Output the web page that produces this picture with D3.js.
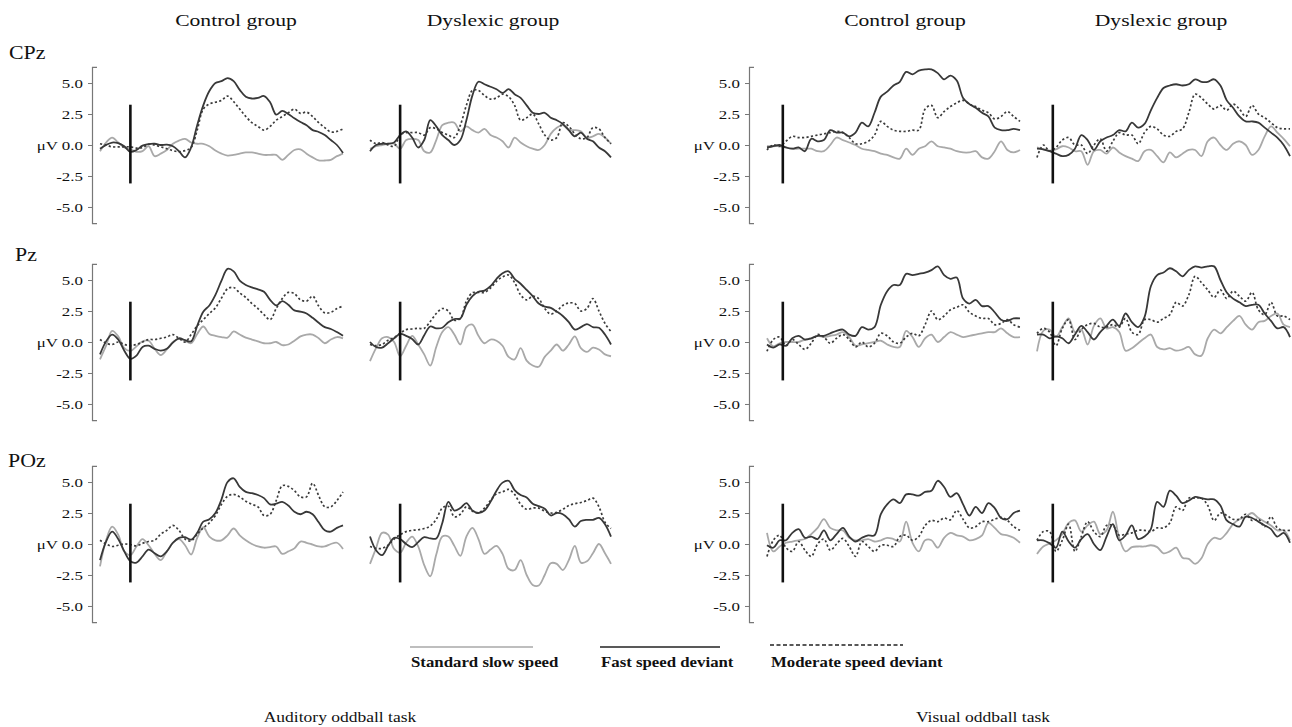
<!DOCTYPE html>
<html>
<head>
<meta charset="utf-8">
<script src="https://cdn.jsdelivr.net/npm/d3@7"></script>
<style>
  body { margin: 0; background: #fff; }
  text { font-family: "Liberation Serif", "Times New Roman", serif; fill: #111; }
</style>
</head>
<body>
<svg id="chart" width="1292" height="727"></svg>
<script>
// sample times (ms), one value every 20 ms
var audTimes = d3.range(-100, 701, 20);
var visTimes = d3.range(-50, 751, 20);

var yTicks = [5, 2.5, 0, -2.5, -5];
var onsetBar = [-3.1, 3.25];

var groupNames = ["Control group", "Dyslexic group", "Control group", "Dyslexic group"];
var siteNames = ["CPz", "Pz", "POz"];
var taskNames = ["Auditory oddball task", "Visual oddball task"];
var legendNames = ["Standard slow speed", "Fast speed deviant", "Moderate speed deviant"];

// CPz
var cpzAudCtlStd = [-0.5,0.2,0.6,0.2,-0.2,-0.35,-0.55,-0.5,-0.1,-0.9,-0.7,-0.4,0.1,0.35,0.5,0.2,0.1,0.1,-0.1,-0.45,-0.7,-0.85,-0.8,-0.7,-0.6,-0.6,-0.7,-0.8,-0.8,-0.8,-1.2,-0.8,-0.4,-0.35,-0.7,-1.0,-1.25,-1.25,-1.2,-0.9,-0.7];
var cpzAudCtlFast = [-0.3,0.0,0.2,0.15,-0.1,-0.55,-0.4,-0.05,0.07,0.1,0.0,0.03,-0.1,-0.5,-1.0,-0.2,1.6,3.2,4.35,5.0,5.15,5.4,5.15,4.45,3.9,3.75,3.8,3.95,3.45,2.45,2.75,2.5,2.15,1.85,1.6,1.2,1.05,0.8,0.4,0.0,-0.65];
var cpzAudCtlMod = [0.1,0.0,-0.15,-0.15,-0.15,-0.15,-0.25,-0.2,0.05,0.0,-0.15,-0.3,-0.45,-0.55,-0.45,-0.2,1.2,2.9,3.3,3.45,3.6,3.95,3.5,2.9,2.3,1.8,1.5,1.2,1.5,2.0,2.3,2.6,2.9,2.55,2.65,2.3,1.8,1.4,1.05,1.1,1.3];
var cpzAudDysStd = [-0.3,-0.1,0.0,0.1,0.1,-0.3,0.4,0.5,0.4,-0.5,-0.6,0.4,1.6,1.8,1.8,1.1,1.5,1.2,1.0,1.3,0.8,0.6,0.3,-0.2,0.6,0.2,-0.1,-0.3,-0.4,0.0,0.9,1.4,1.6,1.2,1.2,1.1,0.6,0.7,0.9,0.6,0.1];
var cpzAudDysFast = [-0.5,0.0,0.1,0.1,0.2,0.8,1.1,0.6,-0.2,0.4,2.0,1.5,0.8,0.4,0.0,0.4,2.0,4.0,5.1,4.9,4.7,4.5,4.2,4.5,4.1,3.8,3.2,2.6,2.5,2.6,2.2,2.0,1.7,1.2,0.7,1.0,0.5,0.3,-0.2,-0.5,-1.0];
var cpzAudDysMod = [0.4,0.1,0.2,0.0,-0.1,0.8,1.0,1.0,1.0,0.8,1.4,1.3,1.0,0.8,0.6,1.6,3.2,4.4,4.4,4.0,3.7,3.8,4.1,3.9,3.2,2.0,2.2,2.5,1.7,0.8,0.4,0.6,1.8,1.5,0.9,0.5,0.6,1.4,1.3,0.6,0.1];
var cpzVisCtlStd = [-0.1,-0.1,-0.1,-0.2,-0.3,-0.3,-0.3,-0.3,-0.5,-0.5,0.0,0.6,0.4,0.2,0.0,-0.3,-0.4,-0.5,-0.7,-0.8,-1.0,-1.1,-0.3,-0.8,-0.3,-0.1,0.3,-0.1,-0.2,-0.3,-0.5,-0.6,-0.6,-0.5,-1.0,-1.1,-0.5,0.3,-0.4,-0.6,-0.4];
var cpzVisCtlFast = [-0.2,-0.1,0.0,-0.2,-0.3,-0.2,-0.5,0.5,0.3,0.4,1.2,1.0,1.0,0.7,1.0,1.8,1.5,2.6,3.9,4.3,4.8,5.1,5.9,5.7,6.0,6.1,6.1,5.8,5.3,5.6,5.2,3.8,3.3,3.0,2.6,2.3,1.4,1.2,1.2,1.3,1.2];
var cpzVisCtlMod = [-0.4,0.0,-0.1,0.3,0.7,0.6,0.6,0.7,0.8,0.9,1.0,1.1,1.0,0.6,0.1,0.1,0.3,0.8,1.9,1.5,1.2,1.1,1.1,1.2,1.2,2.9,3.2,2.2,2.7,3.1,3.4,3.6,3.3,3.1,2.8,2.6,2.1,2.3,2.7,2.3,1.9];
var cpzVisDysStd = [-0.2,-0.35,-0.45,-0.35,-0.1,-0.2,-0.5,-0.5,-1.6,-0.5,-0.4,-0.7,-0.2,-0.6,-0.9,-1.1,-1.3,-0.5,-0.4,-0.9,-1.4,-0.6,-1.0,-0.7,-0.4,-0.4,-0.9,0.3,0.6,0.0,-0.4,0.1,0.3,0.0,-0.8,-0.4,0.7,1.5,1.0,0.5,-0.1];
var cpzVisDysFast = [-0.3,-0.35,-0.5,-0.7,-0.9,-0.8,-0.3,0.8,0.4,-0.4,0.3,0.6,0.8,1.2,1.1,1.8,1.4,1.7,2.8,3.8,4.6,4.8,4.9,4.8,4.9,5.3,5.1,5.1,5.3,4.8,3.6,3.0,2.3,1.9,1.9,1.8,1.4,1.0,0.6,0.0,-0.9];
var cpzVisDysMod = [-1.0,0.0,-0.5,-0.2,0.4,0.6,0.0,0.0,-0.7,0.0,0.5,-0.5,0.3,1.0,0.8,0.8,0.1,1.0,1.5,1.3,0.8,0.7,1.1,1.3,2.6,4.1,3.8,3.3,2.9,3.2,2.8,3.3,2.9,2.3,3.2,2.5,2.2,1.8,1.4,1.3,1.3];

// Pz
var pzAudCtlStd = [-1.4,-0.3,0.9,0.45,-0.5,-0.72,-0.35,0.05,0.1,-0.55,-1.05,-0.6,0.0,0.25,0.1,-0.1,0.65,1.25,0.65,0.5,0.4,0.35,0.85,0.6,0.35,0.2,0.05,-0.1,-0.1,0.0,-0.25,-0.2,0.1,0.45,0.6,0.6,0.3,-0.1,0.2,0.4,0.3];
var pzAudCtlFast = [-1.0,0.05,0.6,0.2,-0.7,-1.35,-1.1,-0.4,-0.3,-0.55,-0.7,-0.55,-0.05,0.3,0.15,0.05,1.3,2.45,2.95,3.8,4.95,5.9,5.7,4.95,4.6,4.4,4.25,4.05,3.4,2.95,3.3,3.0,2.55,2.45,2.3,1.95,1.55,1.2,1.05,0.8,0.5];
var pzAudCtlMod = [0.2,-0.1,-0.2,0.0,-0.2,-0.3,-0.2,0.0,0.2,0.2,0.3,0.4,0.6,0.3,0.0,0.6,1.3,1.8,2.3,2.75,3.55,4.3,4.4,3.95,3.6,3.1,2.7,2.2,1.8,2.7,3.5,4.0,3.9,3.4,3.3,3.7,2.9,2.35,2.4,2.7,2.9];
var pzAudDysStd = [-1.55,-0.5,0.3,0.4,0.0,-1.15,-0.3,0.5,-0.2,-1.0,-1.9,-0.4,0.8,1.2,0.6,-0.2,1.2,1.4,0.5,-0.1,0.2,0.1,-0.3,-1.2,-1.4,-0.5,-1.5,-1.9,-2.0,-1.2,-0.7,-0.2,-0.7,-0.2,0.45,-0.5,-0.8,-0.45,-0.6,-1.0,-1.15];
var pzAudDysFast = [0.0,-0.4,-0.45,-0.1,0.3,0.65,0.5,0.25,-0.2,0.55,1.25,1.1,1.15,1.6,1.85,1.9,3.0,3.7,4.05,4.15,4.5,5.1,5.55,5.7,5.1,4.7,4.2,3.7,3.1,2.85,2.75,2.45,2.1,1.6,1.0,1.2,1.45,1.2,1.15,0.6,-0.2];
var pzAudDysMod = [-0.2,-0.3,-0.2,0.15,0.35,0.7,1.0,1.05,1.1,1.1,1.65,2.3,2.7,2.5,1.75,1.9,3.3,3.97,4.0,4.0,4.35,4.9,5.25,5.4,4.8,3.8,3.4,3.7,3.5,2.7,2.25,2.5,2.95,3.15,3.1,2.5,2.7,3.5,2.5,1.5,0.85];
var pzVisCtlStd = [0.3,-0.35,-0.1,0.0,0.0,0.0,0.2,0.3,0.5,0.4,0.5,0.6,0.8,0.4,-0.3,-0.2,-0.1,0.0,0.1,-0.2,-0.4,-0.4,0.9,0.4,-0.4,0.3,0.6,0.0,0.4,0.8,0.6,0.4,0.5,0.6,0.7,0.8,0.8,1.1,0.7,0.4,0.4];
var pzVisCtlFast = [-0.2,-0.45,-0.2,-0.3,0.3,0.5,0.2,0.3,0.5,0.5,0.7,0.9,1.0,0.6,0.5,1.2,1.0,1.2,3.0,4.1,4.6,4.6,5.5,5.4,5.5,5.6,5.8,6.1,5.4,5.1,5.2,3.5,3.1,3.4,2.9,2.9,2.4,1.8,1.7,1.9,1.9];
var pzVisCtlMod = [-0.75,0.2,0.4,-0.3,0.2,-0.2,-0.6,-0.1,0.6,0.4,-0.1,0.3,0.6,0.2,-0.4,0.0,-0.4,-0.1,0.7,0.5,0.0,-0.1,0.4,0.7,0.5,1.4,2.5,1.8,2.1,2.6,2.8,3.0,2.4,2.1,1.9,1.9,1.4,1.5,1.8,1.4,1.2];
var pzVisDysStd = [-0.75,0.9,1.0,0.4,1.2,1.9,0.8,1.0,-0.2,1.3,1.9,1.1,1.2,0.8,-0.7,-0.5,-0.1,0.3,0.6,-0.4,-0.6,-0.5,-0.7,-0.6,-0.4,-1.0,-1.1,0.3,1.0,0.7,1.2,1.7,2.1,1.4,1.0,1.6,1.7,2.1,2.3,1.4,1.2];
var pzVisDysFast = [0.6,0.6,0.3,0.45,0.3,-0.1,0.6,1.3,0.8,0.2,0.8,1.3,1.8,1.3,2.3,1.6,1.2,2.0,4.5,5.4,5.6,5.95,5.7,5.3,5.8,6.1,6.0,6.1,6.1,5.0,4.0,3.5,3.2,2.9,3.0,3.0,2.3,1.7,1.1,1.2,0.4];
var pzVisDysMod = [0.7,1.1,0.8,-0.3,1.1,1.8,0.2,1.0,1.4,1.5,1.2,1.2,1.4,1.2,1.9,0.8,0.6,1.8,1.8,1.6,1.9,2.2,3.2,2.9,3.8,5.3,4.8,4.2,3.6,4.2,3.5,4.1,3.7,3.3,4.0,2.6,2.2,3.2,2.1,2.1,1.8];

// POz
var pozAudCtlStd = [-1.8,0.3,1.4,0.75,-0.6,-0.9,-0.2,0.4,-0.1,-0.8,-1.3,-0.6,0.1,0.4,-0.1,-0.85,0.5,1.35,0.6,0.3,0.3,0.7,1.25,0.7,0.3,0.0,-0.2,-0.3,-0.25,-0.2,-0.8,-0.6,-0.35,0.2,0.1,-0.05,-0.2,-0.2,0.0,0.1,-0.4];
var pozAudCtlFast = [-1.3,0.2,1.0,0.4,-0.6,-1.4,-1.5,-1.0,-0.45,-0.75,-1.0,-0.6,0.1,0.5,0.55,0.35,0.9,1.8,2.0,2.5,3.6,5.0,5.3,4.6,4.2,4.1,3.95,3.7,3.2,3.25,3.4,3.1,2.6,2.4,2.6,2.4,1.75,1.1,1.0,1.3,1.5];
var pozAudCtlMod = [0.3,0.0,-0.2,-0.1,0.0,-0.05,-0.15,0.05,0.2,0.3,0.8,1.1,1.5,1.1,0.4,0.25,0.8,1.3,1.7,2.3,3.2,3.85,4.0,3.8,3.45,3.2,3.0,2.3,2.4,3.5,4.7,4.65,4.3,3.8,3.8,4.9,3.9,3.0,3.0,3.5,4.2];
var pozAudDysStd = [-1.6,-0.35,0.9,0.75,-0.4,-0.7,0.1,0.6,-0.2,-1.7,-2.6,-0.85,0.6,0.6,-0.15,-0.95,0.6,1.3,0.4,-0.8,-0.45,-0.15,-0.8,-2.0,-2.1,-1.3,-2.5,-3.3,-3.35,-2.5,-1.55,-1.6,-2.1,-1.3,-0.15,-1.5,-1.4,-0.75,0.0,-0.75,-1.6];
var pozAudDysFast = [0.6,-0.5,-0.9,-0.15,0.5,0.4,0.0,-0.25,0.15,0.55,0.45,0.45,1.7,3.4,2.7,2.9,3.3,2.7,2.5,2.7,3.4,4.3,4.95,5.1,4.35,3.95,3.75,3.25,3.05,2.85,2.3,2.5,2.4,2.0,1.4,1.85,1.95,1.95,2.1,1.6,0.6];
var pozAudDysMod = [-0.2,-0.35,-0.35,-0.1,0.4,0.75,1.0,1.1,1.15,1.25,1.45,2.0,2.9,3.05,2.2,2.4,3.0,2.65,2.5,2.9,3.5,4.05,4.2,4.4,4.0,3.2,2.8,2.9,2.9,2.65,2.5,2.55,2.8,3.1,3.25,3.35,3.5,3.7,3.0,1.75,1.25];
var pozVisCtlStd = [0.9,-0.6,-0.2,0.1,0.2,0.3,0.4,0.8,1.3,2.0,1.3,1.1,1.1,0.5,0.3,0.3,0.4,0.2,0.3,0.5,0.4,0.2,1.8,0.1,-0.6,0.3,0.3,-0.3,0.5,0.9,0.7,0.6,0.3,0.4,0.7,1.7,1.3,0.8,0.7,0.5,0.1];
var pozVisCtlFast = [-0.1,-0.3,0.3,0.3,0.9,1.2,0.5,0.6,0.4,1.1,0.3,0.8,1.3,0.6,0.2,0.5,0.7,0.7,2.4,3.2,3.6,3.3,4.0,4.0,3.9,4.2,4.3,5.1,4.6,3.8,4.1,3.2,2.3,3.0,2.5,3.3,2.9,2.1,2.0,2.5,2.7];
var pozVisCtlMod = [-1.0,0.3,0.7,-0.3,-0.6,0.2,-0.5,-1.0,0.0,0.4,-0.5,0.0,0.45,-0.2,-1.0,0.2,-0.2,-0.6,-0.1,-0.1,-0.2,0.6,0.7,0.3,0.6,1.5,1.9,1.8,2.1,1.95,2.7,2.0,1.3,1.4,1.8,1.8,2.0,2.15,1.9,1.4,1.1];
var pozVisDysStd = [-0.8,-0.2,0.05,0.3,0.8,1.7,1.9,1.0,1.5,1.8,0.8,1.1,2.6,0.5,-0.6,-0.25,-0.2,-0.2,-0.1,-0.25,-0.75,-0.6,-0.3,-1.1,-1.2,-1.6,-1.15,0.0,0.5,0.4,0.9,1.6,2.0,2.2,2.5,2.1,1.8,1.5,1.1,1.1,0.3];
var pozVisDysFast = [0.3,0.3,0.05,-0.3,1.0,0.2,-0.3,0.4,0.8,0.0,-0.5,0.6,1.6,0.3,0.7,1.5,0.4,0.6,1.2,3.4,3.0,4.3,3.9,3.3,3.5,3.8,3.7,3.6,3.6,3.1,1.9,1.6,1.4,2.2,2.1,1.8,1.5,1.2,0.6,0.9,0.1];
var pozVisDysMod = [0.3,1.0,1.0,-0.6,0.3,1.6,-0.6,0.6,1.8,1.0,0.6,1.5,1.5,0.7,0.8,0.9,1.1,1.1,1.0,1.3,1.3,1.7,3.0,2.7,3.7,3.7,3.7,3.1,1.9,2.5,2.3,2.0,2.0,2.4,1.9,2.0,1.4,2.2,1.3,1.1,1.1];

var panels = [
  { row: 0, col: 0, times: audTimes, std: cpzAudCtlStd, fast: cpzAudCtlFast, mod: cpzAudCtlMod },
  { row: 0, col: 1, times: audTimes, std: cpzAudDysStd, fast: cpzAudDysFast, mod: cpzAudDysMod },
  { row: 0, col: 2, times: visTimes, std: cpzVisCtlStd, fast: cpzVisCtlFast, mod: cpzVisCtlMod },
  { row: 0, col: 3, times: visTimes, std: cpzVisDysStd, fast: cpzVisDysFast, mod: cpzVisDysMod },
  { row: 1, col: 0, times: audTimes, std: pzAudCtlStd, fast: pzAudCtlFast, mod: pzAudCtlMod },
  { row: 1, col: 1, times: audTimes, std: pzAudDysStd, fast: pzAudDysFast, mod: pzAudDysMod },
  { row: 1, col: 2, times: visTimes, std: pzVisCtlStd, fast: pzVisCtlFast, mod: pzVisCtlMod },
  { row: 1, col: 3, times: visTimes, std: pzVisDysStd, fast: pzVisDysFast, mod: pzVisDysMod },
  { row: 2, col: 0, times: audTimes, std: pozAudCtlStd, fast: pozAudCtlFast, mod: pozAudCtlMod },
  { row: 2, col: 1, times: audTimes, std: pozAudDysStd, fast: pozAudDysFast, mod: pozAudDysMod },
  { row: 2, col: 2, times: visTimes, std: pozVisCtlStd, fast: pozVisCtlFast, mod: pozVisCtlMod },
  { row: 2, col: 3, times: visTimes, std: pozVisDysStd, fast: pozVisDysFast, mod: pozVisDysMod }
];

// layout
var colRange = [[100, 343], [370, 611], [767, 1020], [1037, 1290]];
var axisX = [92, null, 749, null];
var rowZero = [145, 342, 544];
var halfH = 78.1; // px for 6.3 uV

var styles = {
  std: { color: "#a9a9a9", width: 1.8, dash: null },
  mod: { color: "#3b3b3b", width: 1.7, dash: "2.2,2.3" },
  fast: { color: "#383838", width: 1.8, dash: null }
};

var svg = d3.select("#chart");

function stretchText(x, y, str, size, anchor, sx, weight) {
  svg.append("text")
    .attr("transform", "translate(" + x + "," + y + ") scale(" + sx + ",1)")
    .attr("text-anchor", anchor)
    .style("font-size", size + "px")
    .style("font-weight", weight || "normal")
    .text(str);
}

var fmt = d3.format(".1f");

panels.forEach(function(p) {
  var xr = colRange[p.col];
  var zero = rowZero[p.row];
  var x = d3.scaleLinear()
    .domain([p.times[0], p.times[p.times.length - 1]])
    .range(xr);
  var y = d3.scaleLinear().domain([-6.3, 6.3]).range([zero + halfH, zero - halfH]);

  var g = svg.append("g");

  if (axisX[p.col] !== null) {
    var ax = g.append("g")
      .attr("transform", "translate(" + axisX[p.col] + ",0)")
      .call(d3.axisLeft(y)
        .tickValues(yTicks)
        .tickSize(4)
        .tickSizeOuter(-5)
        .tickPadding(3)
        .tickFormat(function(v) {
          var s = fmt(v).replace("\u2212", "-");
          return v === 0 ? "\u03bcV " + s : s;
        }));
    ax.select(".domain").attr("stroke", "#777").attr("stroke-width", 1.2);
    ax.selectAll(".tick line").attr("stroke", "#777");
    ax.selectAll(".tick text")
      .attr("transform", "scale(1.3,1)")
      .attr("fill", "#1a1a1a")
      .style("font-size", "13px")
      .style("font-family", "'Liberation Serif', serif");
  }

  var line = d3.line()
    .x(function(d, i) { return x(p.times[i]); })
    .y(function(d) { return y(d); })
    .curve(d3.curveCatmullRom.alpha(0.5));

  ["std", "mod", "fast"].forEach(function(key) {
    var s = styles[key];
    g.append("path")
      .datum(p[key])
      .attr("d", line)
      .attr("fill", "none")
      .attr("stroke", s.color)
      .attr("stroke-width", s.width)
      .attr("stroke-dasharray", s.dash)
      .attr("stroke-linejoin", "round");
  });

  // stimulus onset marker
  g.append("line")
    .attr("x1", x(0)).attr("x2", x(0))
    .attr("y1", y(onsetBar[1])).attr("y2", y(onsetBar[0]))
    .attr("stroke", "#111")
    .attr("stroke-width", 2.6);
});

// column headers
var headerX = [236, 493, 905, 1161];
groupNames.forEach(function(n, i) {
  stretchText(headerX[i], 26, n, 17, "middle", 1.27);
});

// row labels
var rowLabelPos = [[9, 59], [15, 261], [8, 467]];
siteNames.forEach(function(n, i) {
  stretchText(rowLabelPos[i][0], rowLabelPos[i][1], n, 19, "start", 1.15);
});

// legend
var legendY = 647;
var legendPos = [[410, 533], [600, 720], [770, 903]];
var legendKeys = ["std", "fast", "mod"];
legendKeys.forEach(function(key, i) {
  svg.append("line")
    .attr("x1", legendPos[i][0]).attr("x2", legendPos[i][1])
    .attr("y1", key === "mod" ? legendY - 2 : legendY)
    .attr("y2", key === "mod" ? legendY - 2 : legendY)
    .attr("stroke", key === "std" ? "#a9a9a9" : "#222")
    .attr("stroke-width", 1.6)
    .attr("stroke-dasharray", key === "mod" ? "4,2.5" : null);
  stretchText(legendPos[i][0] + 1, 667, legendNames[i], 14, "start", 1.2, "bold");
});

// task titles
stretchText(340, 722, taskNames[0], 15.5, "middle", 1.13);
stretchText(983, 722, taskNames[1], 15.5, "middle", 1.13);
</script>
</body>
</html>
